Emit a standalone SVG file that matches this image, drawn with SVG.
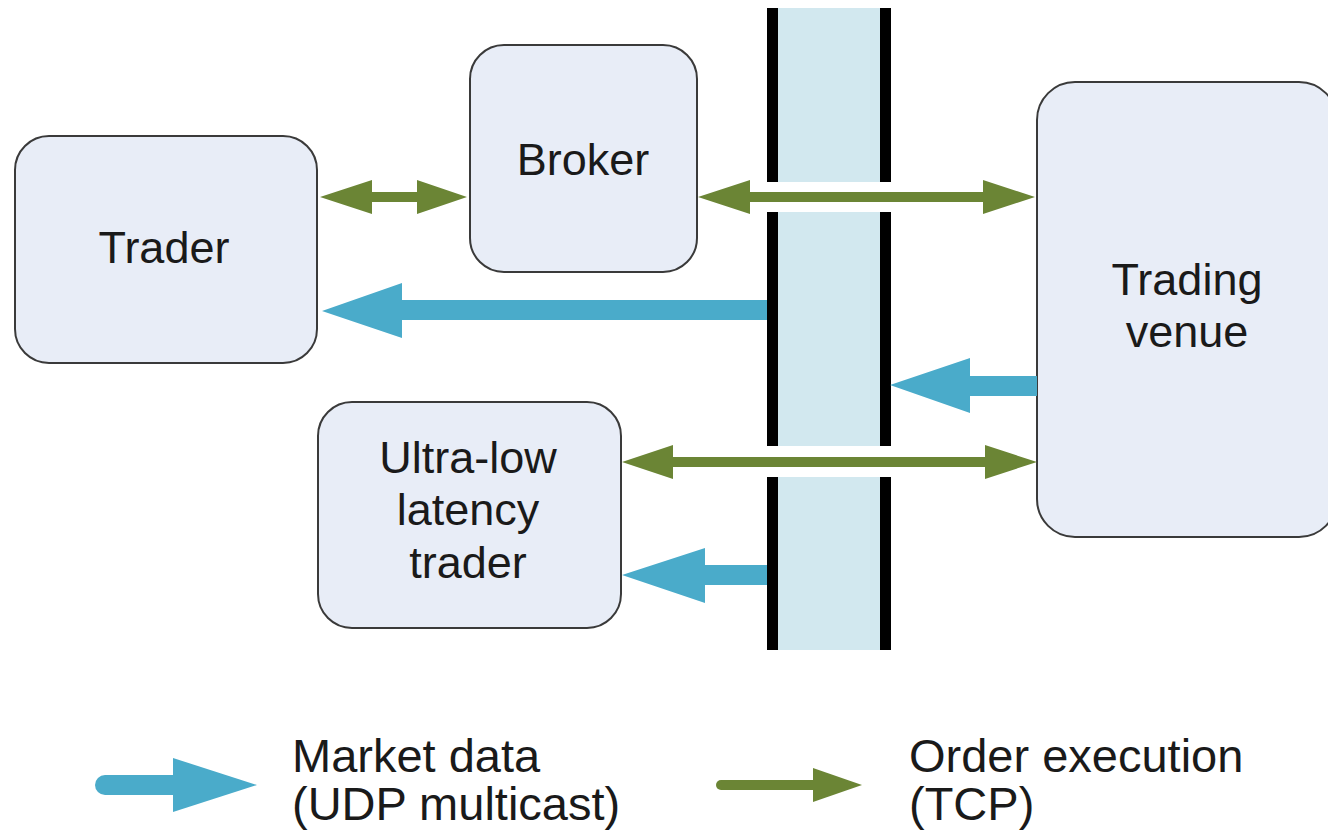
<svg xmlns="http://www.w3.org/2000/svg" width="1328" height="839" viewBox="0 0 1328 839">
  <style>
    .node { fill: #e8edf7; stroke: #3a3a3a; stroke-width: 2; }
    .label { font-family: "Liberation Sans", Arial, sans-serif; font-size: 45px; fill: #1a1a1a; text-anchor: middle; }
    .legend { font-family: "Liberation Sans", Arial, sans-serif; font-size: 47px; fill: #1a1a1a; }
    .tcp { fill: #6b8535; }
    .udp { fill: #4aabca; }
    .bar { fill: #000; }
  </style>

  <rect width="1328" height="839" fill="#ffffff"/>

  <!-- network boundary column -->
  <g id="network">
    <rect x="777" y="8" width="104" height="642" fill="#d2e8ef"/>
    <rect x="767" y="182" width="124" height="30" fill="#ffffff"/>
    <rect x="767" y="446" width="124" height="31" fill="#ffffff"/>
    <rect class="bar" x="767" y="8" width="11" height="174"/>
    <rect class="bar" x="767" y="212" width="11" height="234"/>
    <rect class="bar" x="767" y="477" width="11" height="173"/>
    <rect class="bar" x="880" y="8" width="11" height="174"/>
    <rect class="bar" x="880" y="212" width="11" height="234"/>
    <rect class="bar" x="880" y="477" width="11" height="173"/>
  </g>

  <g id="trader">
    <rect class="node" x="15" y="136" width="302" height="227" rx="34"/>
    <text class="label" x="164" y="263">Trader</text>
  </g>

  <g id="broker">
    <rect class="node" x="470" y="45" width="227" height="227" rx="34"/>
    <text class="label" x="583" y="175">Broker</text>
  </g>

  <g id="trading-venue">
    <rect class="node" x="1037" y="82" width="300" height="455" rx="38"/>
    <text class="label" x="1187" y="295">Trading</text>
    <text class="label" x="1187" y="347">venue</text>
  </g>

  <g id="ull-trader">
    <rect class="node" x="318" y="402" width="303" height="226" rx="34"/>
    <text class="label" x="468" y="473">Ultra-low</text>
    <text class="label" x="468" y="525">latency</text>
    <text class="label" x="468" y="578">trader</text>
  </g>

  <!-- connectors -->
  <g id="connectors">
    <!-- Trader <-> Broker -->
    <polygon class="tcp" points="320,197 372,180 372,192 417,192 417,180 467,197 417,214 417,202 372,202 372,214"/>
    <!-- Broker <-> Trading venue -->
    <polygon class="tcp" points="698,197 750,180 750,192 983,192 983,180 1035,197 983,214 983,202 750,202 750,214"/>
    <!-- Ultra-low latency trader <-> Trading venue -->
    <polygon class="tcp" points="622,462 673,445 673,457 985,457 985,445 1037,462 985,479 985,467 673,467 673,479"/>
    <!-- market data to Trader -->
    <polygon class="udp" points="322,311 402,283 402,300 767,300 767,320 402,320 402,338"/>
    <!-- market data from Trading venue -->
    <polygon class="udp" points="890,385 970,358 970,376 1037,376 1037,396 970,396 970,413"/>
    <!-- market data to Ultra-low latency trader -->
    <polygon class="udp" points="622,575 705,548 705,565 767,565 767,585 705,585 705,603"/>
  </g>

  <!-- legend -->
  <g id="legend">
    <line x1="105" y1="785" x2="175" y2="785" stroke="#4aabca" stroke-width="20" stroke-linecap="round"/>
    <polygon class="udp" points="173,758 257,785 173,812"/>
    <text class="legend" x="292" y="772">Market data</text>
    <text class="legend" x="292" y="820">(UDP multicast)</text>

    <line x1="721" y1="785" x2="815" y2="785" stroke="#6b8535" stroke-width="10" stroke-linecap="round"/>
    <polygon class="tcp" points="813,768 862,785 813,802"/>
    <text class="legend" x="909" y="772">Order execution</text>
    <text class="legend" x="909" y="820">(TCP)</text>
  </g>
</svg>
